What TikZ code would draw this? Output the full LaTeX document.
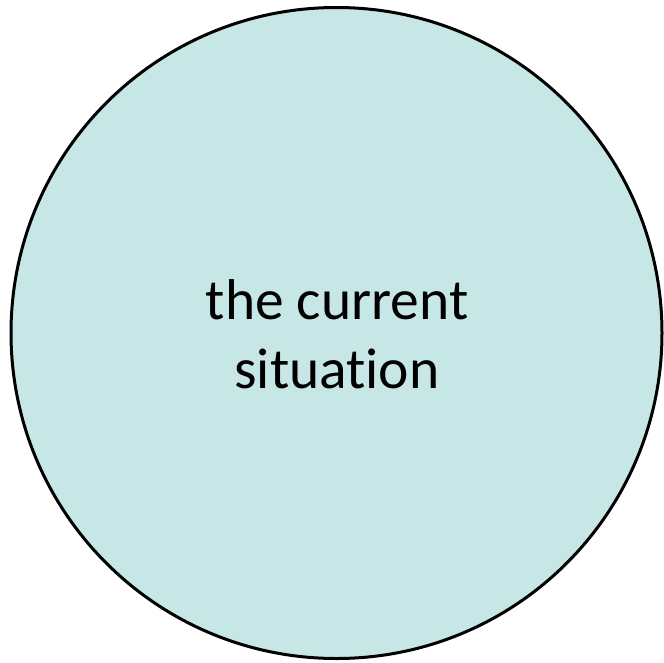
\documentclass[tikz,border=0pt]{standalone}
\usepackage{fontspec}
\setmainfont{Carlito}[Ligatures=NoCommon]
\definecolor{circfill}{RGB}{199,230,230}
\begin{document}
\begin{tikzpicture}[x=1pt,y=-1pt,
  bubble/.style={circle,draw=black,line width=3pt,fill=circfill,minimum size=651pt,inner sep=0pt},
  label/.style={align=center,font=\fontsize{57.5}{69}\selectfont,text=black}]
\useasboundingbox (0,0) rectangle (664,662);
\node[bubble] (c) at (336.5,333) {};
\node[label] (t) at (337,334) {the current\\situation};
\end{tikzpicture}
\end{document}
